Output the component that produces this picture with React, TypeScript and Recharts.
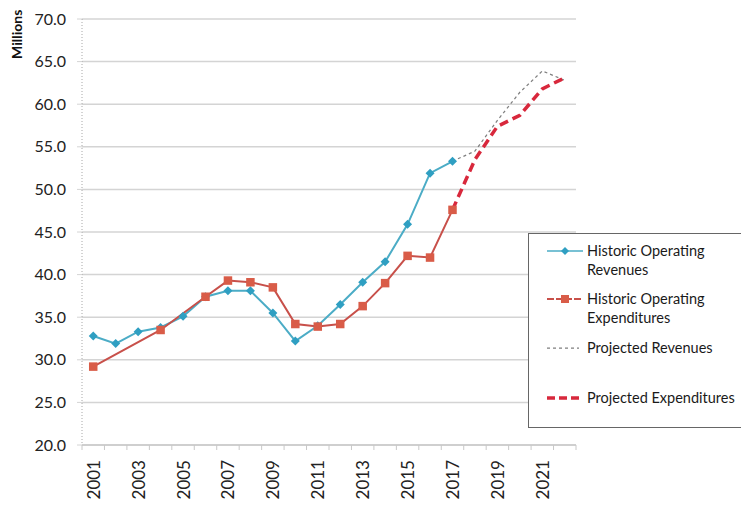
import { LineChart, Line, XAxis, YAxis, CartesianGrid } from 'recharts';

const years = [
    '2001', '2002', '2003', '2004', '2005', '2006', '2007', '2008', '2009', '2010', '2011',
    '2012', '2013', '2014', '2015', '2016', '2017', '2018', '2019', '2020', '2021', '2022',
];

// millions of dollars
const historicRevenues = [
    32.8, 31.9, 33.3, 33.8, 35.1, 37.4, 38.1, 38.1, 35.5, 32.2, 34.0,
    36.5, 39.1, 41.5, 45.9, 51.9, 53.3, null, null, null, null, null,
];
const historicExpenditures = [
    29.2, null, null, 33.5, null, 37.4, 39.3, 39.1, 38.5, 34.2, 33.9,
    34.2, 36.3, 39.0, 42.2, 42.0, 47.6, null, null, null, null, null,
];
const projectedRevenues = [
    null, null, null, null, null, null, null, null, null, null, null,
    null, null, null, null, null, 53.3, 54.5, 58.1, 61.4, 63.9, 62.8,
];
const projectedExpenditures = [
    null, null, null, null, null, null, null, null, null, null, null,
    null, null, null, null, null, 47.6, 53.5, 57.4, 58.7, 61.8, 63.1,
];

const yTicks = [20, 25, 30, 35, 40, 45, 50, 55, 60, 65, 70];

const legendItems = [
    { key: 'histRev', lines: ['Historic Operating', 'Revenues'] },
    { key: 'histExp', lines: ['Historic Operating', 'Expenditures'] },
    { key: 'projRev', lines: ['Projected Revenues'] },
    { key: 'projExp', lines: ['Projected Expenditures'] },
];

const data = years.map((year, i) => ({
    year,
    histRev: historicRevenues[i],
    histExp: historicExpenditures[i],
    projRev: projectedRevenues[i],
    projExp: projectedExpenditures[i],
}));

const WIDTH = 741;
const HEIGHT = 506;
const MARGIN = { top: 19, right: 165, bottom: 0, left: 0 };
const Y_AXIS_W = 82;
const X_AXIS_H = 61;
const HALF_BAND = (WIDTH - MARGIN.right - Y_AXIS_W) / years.length / 2;

const FONT = 'Lato, "Open Sans", sans-serif';
const TEAL = '#4bacc6';
const TEAL_DOT = '#2f9fc2';
const RED = '#c8504a';
const RED_DOT = '#d95c48';
const GREY = '#7f7f7f';
const CRIMSON = '#d8283c';

const Diamond = (props: any) => {
    const { cx, cy, index } = props;
    if (cx == null || cy == null) return <g key={`d-${index}`} />;
    const r = 4.5;
    return (
        <path
            key={`d-${index}`}
            d={`M${cx},${cy - r} L${cx + r},${cy} L${cx},${cy + r} L${cx - r},${cy} Z`}
            fill={TEAL_DOT}
        />
    );
};

const Square = (props: any) => {
    const { cx, cy, index } = props;
    if (cx == null || cy == null) return <g key={`s-${index}`} />;
    const s = 8.5;
    return <rect key={`s-${index}`} x={cx - s / 2} y={cy - s / 2} width={s} height={s} fill={RED_DOT} />;
};

// year labels on every other category, small tick marks between categories
const YearTick = (props: any) => {
    const { x, y, payload, index } = props;
    const axisY = y - 7;
    return (
        <g>
            <line x1={x - HALF_BAND} y1={axisY} x2={x - HALF_BAND} y2={axisY + 5} stroke="#c8c8c8" />
            {index === years.length - 1 && (
                <line x1={x + HALF_BAND} y1={axisY} x2={x + HALF_BAND} y2={axisY + 5} stroke="#c8c8c8" />
            )}
            {index % 2 === 0 && (
                <text
                    x={x}
                    y={y + 8}
                    transform={`rotate(-90 ${x} ${y + 8})`}
                    textAnchor="end"
                    dominantBaseline="central"
                    fontFamily={FONT}
                    fontSize={17}
                    fill="#222"
                >
                    {payload.value}
                </text>
            )}
        </g>
    );
};

const LegendSample = ({ kind }: { kind: string }) => {
    if (kind === 'histRev') {
        return (
            <svg width={38} height={10}>
                <line x1={0} y1={5} x2={36} y2={5} stroke={TEAL} strokeWidth={1.5} />
                <path d="M18,1 L22,5 L18,9 L14,5 Z" fill={TEAL_DOT} />
            </svg>
        );
    }
    if (kind === 'histExp') {
        return (
            <svg width={38} height={10}>
                <line x1={0} y1={5} x2={36} y2={5} stroke={RED} strokeWidth={2} strokeDasharray="7 2" />
                <rect x={14} y={1} width={8} height={8} fill={RED_DOT} />
            </svg>
        );
    }
    if (kind === 'projRev') {
        return (
            <svg width={38} height={10}>
                <line x1={0} y1={5} x2={32} y2={5} stroke={GREY} strokeWidth={1.25} strokeDasharray="3 3" />
            </svg>
        );
    }
    return (
        <svg width={38} height={10}>
            <line x1={0} y1={5} x2={32} y2={5} stroke={CRIMSON} strokeWidth={3.5} strokeDasharray="8 4" />
        </svg>
    );
};

const rowTops = [7, 55, 104, 154];

const LegendBox = () => (
    <div
        style={{
            position: 'absolute',
            left: 528,
            top: 233,
            width: 230,
            height: 195,
            border: '1.5px solid #666',
            background: '#fff',
            boxSizing: 'border-box',
            fontFamily: FONT,
            fontSize: 14.5,
            color: '#1a1a1a',
        }}
    >
        {legendItems.map((item, i) => (
            <div key={item.key} style={{ position: 'absolute', left: 18, top: rowTops[i], display: 'flex' }}>
                <div style={{ width: 40, height: 19, display: 'flex', alignItems: 'center' }}>
                    <LegendSample kind={item.key} />
                </div>
                <div style={{ lineHeight: '19px', whiteSpace: 'nowrap' }}>
                    {item.lines.map((l) => (
                        <div key={l}>{l}</div>
                    ))}
                </div>
            </div>
        ))}
    </div>
);

const App = () => {
    return (
        <div
            style={{
                position: 'absolute',
                left: 0,
                top: 0,
                width: WIDTH,
                height: HEIGHT,
                overflow: 'hidden',
                background: '#fff',
            }}
        >
            <LineChart width={WIDTH} height={HEIGHT} data={data} margin={MARGIN}>
                <CartesianGrid vertical={false} stroke="#d4d4d4" strokeWidth={1.5} />
                <XAxis
                    dataKey="year"
                    interval={0}
                    height={X_AXIS_H}
                    padding={{ left: HALF_BAND, right: HALF_BAND }}
                    axisLine={{ stroke: '#cfcfcf', strokeWidth: 2 }}
                    tickLine={false}
                    tickSize={5}
                    tickMargin={2}
                    tick={<YearTick />}
                />
                <YAxis
                    width={Y_AXIS_W}
                    domain={[20, 70]}
                    ticks={yTicks}
                    interval={0}
                    axisLine={{ stroke: '#a8a8a8', strokeDasharray: '1 2' }}
                    tickLine={{ stroke: '#d4d4d4' }}
                    tickSize={5}
                    tickMargin={11}
                    tickFormatter={(v: number) => v.toFixed(1)}
                    tick={{ fill: '#222', fontSize: 16, fontFamily: FONT }}
                    label={{
                        value: 'Millions',
                        angle: -90,
                        position: 'insideTopLeft',
                        offset: 0,
                        dx: 12,
                        dy: 40,
                        style: { fontFamily: FONT, fontWeight: 700, fontSize: 14, fill: '#111' },
                    }}
                />
                <Line
                    dataKey="histRev"
                    stroke={TEAL}
                    strokeWidth={2}
                    dot={Diamond}
                    activeDot={false}
                    isAnimationActive={false}
                />
                <Line
                    dataKey="histExp"
                    stroke={RED}
                    strokeWidth={2}
                    dot={Square}
                    activeDot={false}
                    connectNulls
                    isAnimationActive={false}
                />
                <Line
                    dataKey="projRev"
                    stroke={GREY}
                    strokeWidth={1.25}
                    strokeDasharray="3 3"
                    dot={false}
                    activeDot={false}
                    isAnimationActive={false}
                />
                <Line
                    dataKey="projExp"
                    stroke={CRIMSON}
                    strokeWidth={3.5}
                    strokeDasharray="9 5"
                    dot={false}
                    activeDot={false}
                    isAnimationActive={false}
                />
            </LineChart>
            <LegendBox />
        </div>
    );
};

export default App;
